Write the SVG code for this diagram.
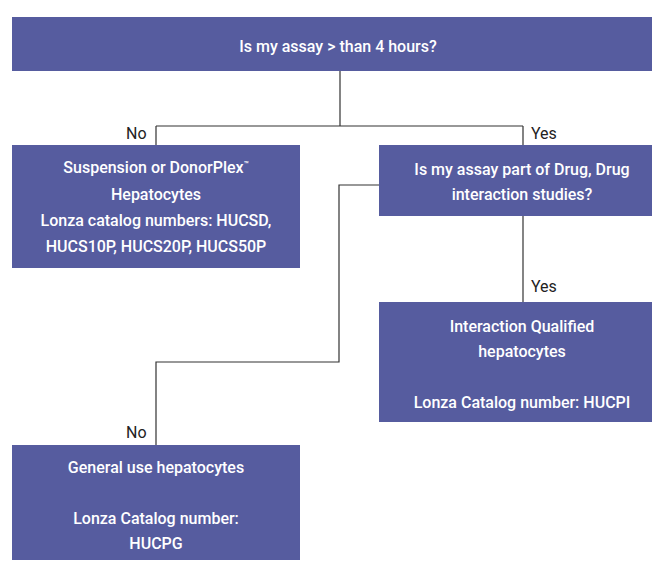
<svg xmlns="http://www.w3.org/2000/svg" width="654" height="561" viewBox="0 0 654 561">
<style>
.box{fill:#565c9f}
.t{font-family:Roboto,"Liberation Sans",sans-serif;font-size:16px;font-weight:500;fill:#ffffff;text-anchor:middle}
.lbl{font-family:Roboto,"Liberation Sans",sans-serif;font-size:16px;fill:#222222}
.c{fill:none;stroke:#333333;stroke-width:1.2}
</style>
<rect width="654" height="561" fill="#ffffff"/>
<g id="connectors">
<path class="c" d="M340 71 V126 M156 126 H523 M156 126 V145 M523 126 V145"/>
<path class="c" d="M523 216 V302"/>
<path class="c" d="M379 185 H339 V362 H156 V445"/>
</g>
<g id="labels">
<text class="lbl" x="126" y="139">No</text>
<text class="lbl" x="531" y="139">Yes</text>
<text class="lbl" x="531" y="292">Yes</text>
<text class="lbl" x="126" y="438">No</text>
</g>
<g id="q1">
<rect class="box" x="12" y="17" width="640" height="54"/>
<text class="t" x="338" y="52">Is my assay &gt; than 4 hours?</text>
</g>
<g id="suspension">
<rect class="box" x="12" y="145" width="288" height="123"/>
<text class="t" x="156" y="173">Suspension or DonorPlex<tspan font-size="8" dy="-6">™</tspan></text>
<text class="t" x="156" y="200">Hepatocytes</text>
<text class="t" x="156" y="226">Lonza catalog numbers: HUCSD,</text>
<text class="t" x="156" y="252">HUCS10P, HUCS20P, HUCS50P</text>
</g>
<g id="q2">
<rect class="box" x="379" y="145" width="273" height="71"/>
<text class="t" x="522" y="175">Is my assay part of Drug, Drug</text>
<text class="t" x="522" y="200">interaction studies?</text>
</g>
<g id="interaction">
<rect class="box" x="379" y="302" width="273" height="120"/>
<text class="t" x="522" y="332">Interaction Qualified</text>
<text class="t" x="522" y="357">hepatocytes</text>
<text class="t" x="522" y="408">Lonza Catalog number: HUCPI</text>
</g>
<g id="general">
<rect class="box" x="12" y="445" width="288" height="115"/>
<text class="t" x="156" y="473">General use hepatocytes</text>
<text class="t" x="156" y="524">Lonza Catalog number:</text>
<text class="t" x="156" y="549">HUCPG</text>
</g>
</svg>
